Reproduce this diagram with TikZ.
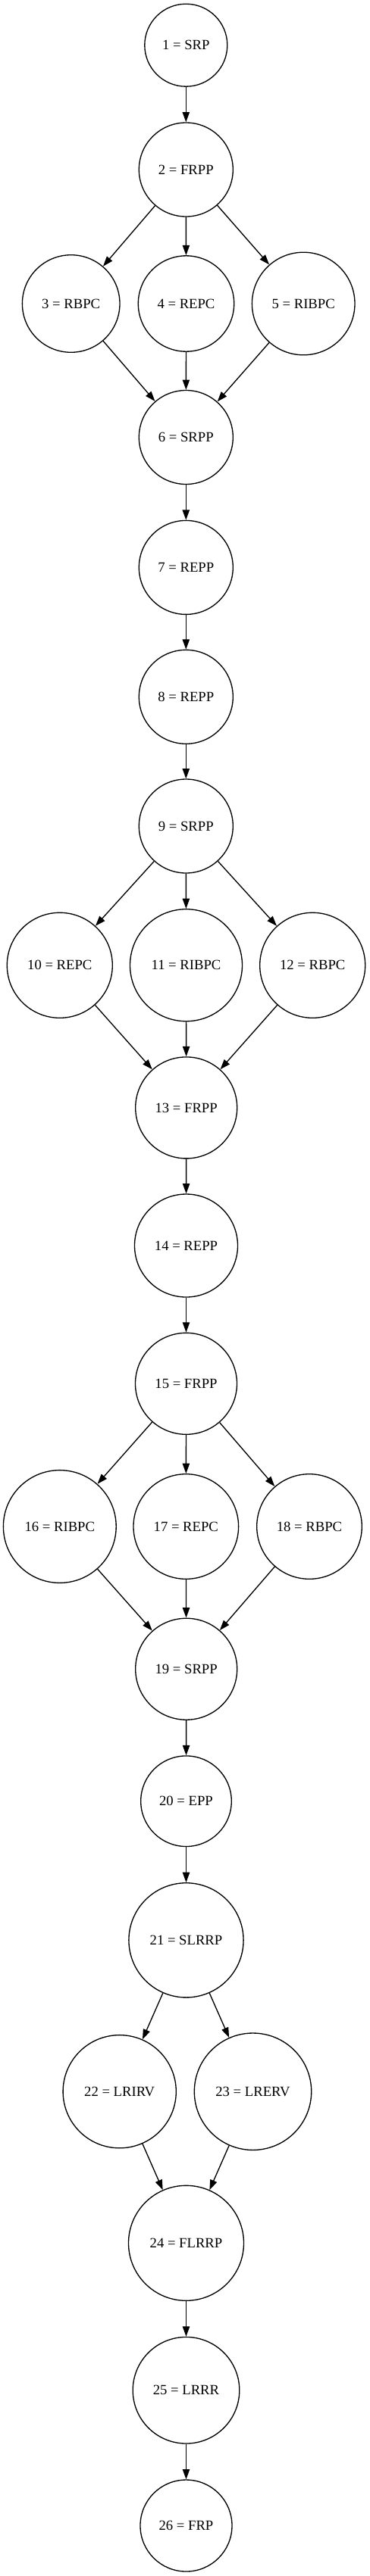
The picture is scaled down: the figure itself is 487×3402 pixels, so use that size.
\documentclass[tikz,border=0pt]{standalone}
\usepackage{fontspec}
\setmainfont{Liberation Serif}
\usetikzlibrary{arrows.meta}
\begin{document}
\begin{tikzpicture}[x=0.75pt,y=-0.75pt,
  nd/.style={circle,draw,line width=1pt,inner sep=0pt,minimum size={1.5*#1pt},font=\fontsize{14}{16}\selectfont},
  ed/.style={-{Triangle[length=10pt,width=7pt]},line width=1pt}]
\useasboundingbox (0,0) rectangle (487,3402);
\node[nd=54.5] (n1) at (245.3,59.7) {1 = SRP};
\node[nd=62] (n2) at (245.3,224) {2 = FRPP};
\node[nd=64.3] (n3) at (93.7,401) {3 = RBPC};
\node[nd=63.2] (n4) at (245.5,401) {4 = REPC};
\node[nd=67.8] (n5) at (400.2,401) {5 = RIBPC};
\node[nd=62] (n6) at (245.3,577.5) {6 = SRPP};
\node[nd=62] (n7) at (245.3,749.4) {7 = REPP};
\node[nd=62] (n8) at (245.3,920.3) {8 = REPP};
\node[nd=62] (n9) at (245.3,1091) {9 = SRPP};
\node[nd=69.5] (n10) at (78.8,1274.8) {10 = REPC};
\node[nd=74] (n11) at (245.5,1274.7) {11 = RIBPC};
\node[nd=69.5] (n12) at (412.2,1274.8) {12 = RBPC};
\node[nd=67] (n13) at (245.7,1462.9) {13 = FRPP};
\node[nd=68] (n14) at (245.5,1645) {14 = REPP};
\node[nd=67] (n15) at (245.5,1827.3) {15 = FRPP};
\node[nd=74.4] (n16) at (78.8,2016) {16 = RIBPC};
\node[nd=69.3] (n17) at (245.3,2016) {17 = REPC};
\node[nd=69.3] (n18) at (408,2016) {18 = RBPC};
\node[nd=67] (n19) at (245.7,2204.2) {19 = SRPP};
\node[nd=59.8] (n20) at (245.5,2378.7) {20 = EPP};
\node[nd=75.6] (n21) at (245.5,2562.3) {21 = SLRRP};
\node[nd=74.6] (n22) at (157.7,2762.2) {22 = LRIRV};
\node[nd=77.2] (n23) at (333.5,2762.2) {23 = LRERV};
\node[nd=76] (n24) at (245.5,2962.3) {24 = FLRRP};
\node[nd=70.3] (n25) at (245.5,3156.7) {25 = LRRR};
\node[nd=60.5] (n26) at (245.5,3335.5) {26 = FRP};
\draw[ed] (n1) -- (n2);
\draw[ed] (n2) -- (n3);
\draw[ed] (n2) -- (n4);
\draw[ed] (n2) -- (n5);
\draw[ed] (n3) -- (n6);
\draw[ed] (n4) -- (n6);
\draw[ed] (n5) -- (n6);
\draw[ed] (n6) -- (n7);
\draw[ed] (n7) -- (n8);
\draw[ed] (n8) -- (n9);
\draw[ed] (n9) -- (n10);
\draw[ed] (n9) -- (n11);
\draw[ed] (n9) -- (n12);
\draw[ed] (n10) -- (n13);
\draw[ed] (n11) -- (n13);
\draw[ed] (n12) -- (n13);
\draw[ed] (n13) -- (n14);
\draw[ed] (n14) -- (n15);
\draw[ed] (n15) -- (n16);
\draw[ed] (n15) -- (n17);
\draw[ed] (n15) -- (n18);
\draw[ed] (n16) -- (n19);
\draw[ed] (n17) -- (n19);
\draw[ed] (n18) -- (n19);
\draw[ed] (n19) -- (n20);
\draw[ed] (n20) -- (n21);
\draw[ed] (n21) -- (n22);
\draw[ed] (n21) -- (n23);
\draw[ed] (n22) -- (n24);
\draw[ed] (n23) -- (n24);
\draw[ed] (n24) -- (n25);
\draw[ed] (n25) -- (n26);
\end{tikzpicture}
\end{document}
